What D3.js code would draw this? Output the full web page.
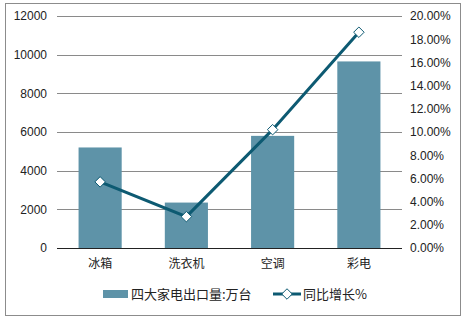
<!DOCTYPE html>
<html>
<head>
<meta charset="utf-8">
<script src="https://cdn.jsdelivr.net/npm/d3@7"></script>
<style>
body { margin: 0; background: #fff; }
text { font-family: "Liberation Sans", Arial, "Noto Sans CJK SC", sans-serif; font-size: 12px; fill: #222; }
.cjk { font-family: "Noto Sans CJK SC", sans-serif; }
</style>
</head>
<body>
<div id="chart"></div>
<script>
var categories = ["冰箱", "洗衣机", "空调", "彩电"];
var exportVolume = [5200, 2350, 5800, 9650];
var growthPct = [5.7, 2.7, 10.2, 18.6];
var leftTicks = [0, 2000, 4000, 6000, 8000, 10000, 12000];
var rightTicks = [0, 2, 4, 6, 8, 10, 12, 14, 16, 18, 20];
var seriesNames = ["四大家电出口量:万台", "同比增长%"];

var width = 466, height = 320;
var plot = { left: 57, right: 402, top: 16, bottom: 248 };

var barColor = "#5e93a8";
var lineColor = "#0d5a72";

var svg = d3.select("#chart").append("svg")
	.attr("width", width)
	.attr("height", height);

//outer frame
svg.append("rect")
	.attr("x", 5.5).attr("y", 3.5)
	.attr("width", 455).attr("height", 312)
	.attr("fill", "none")
	.attr("stroke", "#8c8c8c");

var x = d3.scaleBand()
	.domain(categories)
	.range([plot.left, plot.right])
	.paddingInner(0.5)
	.paddingOuter(0.25);

var yLeft = d3.scaleLinear().domain([0, 12000]).range([plot.bottom, plot.top]);
var yRight = d3.scaleLinear().domain([0, 20]).range([plot.bottom, plot.top]);

//gridlines
svg.append("g").selectAll("line")
	.data(leftTicks.slice(1))
	.join("line")
	.attr("x1", plot.left).attr("x2", plot.right)
	.attr("y1", function(d) { return Math.round(yLeft(d)) + 0.5; })
	.attr("y2", function(d) { return Math.round(yLeft(d)) + 0.5; })
	.attr("stroke", "#8a8a8a");

//bars
svg.append("g").selectAll("rect")
	.data(exportVolume)
	.join("rect")
	.attr("x", function(d, i) { return x(categories[i]); })
	.attr("width", x.bandwidth())
	.attr("y", function(d) { return yLeft(d); })
	.attr("height", function(d) { return plot.bottom - yLeft(d); })
	.attr("fill", barColor);

//baseline
svg.append("line")
	.attr("x1", plot.left).attr("x2", plot.right)
	.attr("y1", plot.bottom + 0.5).attr("y2", plot.bottom + 0.5)
	.attr("stroke", "#222");

//left axis labels
var gl = svg.append("g")
	.attr("transform", "translate(" + plot.left + ",0)")
	.call(d3.axisLeft(yLeft).tickValues(leftTicks).tickSize(0).tickPadding(10).tickFormat(d3.format("d")));
gl.select(".domain").remove();
gl.selectAll("text").style("font-size", "12px").attr("fill", "#222");

//right axis labels
var gr = svg.append("g")
	.attr("transform", "translate(" + plot.right + ",0)")
	.call(d3.axisRight(yRight).tickValues(rightTicks).tickSize(0).tickPadding(8)
		.tickFormat(function(d) { return d.toFixed(2) + "%"; }));
gr.select(".domain").remove();
gr.selectAll("text").style("font-size", "12px").attr("fill", "#222");

//category labels
var gx = svg.append("g")
	.attr("transform", "translate(0," + plot.bottom + ")")
	.call(d3.axisBottom(x).tickSize(0).tickPadding(11));
gx.select(".domain").remove();
gx.selectAll("text").attr("class", "cjk").style("font-size", "12px").attr("fill", "#222");

//growth line
var line = d3.line()
	.x(function(d, i) { return x(categories[i]) + x.bandwidth() / 2; })
	.y(function(d) { return yRight(d); });

svg.append("path")
	.datum(growthPct)
	.attr("d", line)
	.attr("fill", "none")
	.attr("stroke", lineColor)
	.attr("stroke-width", 3);

var diamond = d3.symbol().type(d3.symbolDiamond2).size(70);
svg.append("g").selectAll("path")
	.data(growthPct)
	.join("path")
	.attr("d", diamond)
	.attr("transform", function(d, i) {
		return "translate(" + (x(categories[i]) + x.bandwidth() / 2) + "," + yRight(d) + ")";
	})
	.attr("fill", "#fff")
	.attr("stroke", lineColor)
	.attr("stroke-width", 1);

//legend
var legY = 294;
svg.append("rect")
	.attr("x", 103).attr("y", legY - 4)
	.attr("width", 25).attr("height", 8)
	.attr("fill", barColor);
svg.append("text")
	.attr("class", "cjk")
	.attr("x", 131).attr("y", legY)
	.attr("dy", "0.35em")
	.style("font-size", "13px")
	.text(seriesNames[0]);

svg.append("line")
	.attr("x1", 273).attr("x2", 301)
	.attr("y1", legY).attr("y2", legY)
	.attr("stroke", lineColor)
	.attr("stroke-width", 3);
svg.append("path")
	.attr("d", diamond)
	.attr("transform", "translate(287," + legY + ")")
	.attr("fill", "#fff")
	.attr("stroke", lineColor);
svg.append("text")
	.attr("class", "cjk")
	.attr("x", 303).attr("y", legY)
	.attr("dy", "0.35em")
	.style("font-size", "13px")
	.text(seriesNames[1]);
</script>
</body>
</html>
